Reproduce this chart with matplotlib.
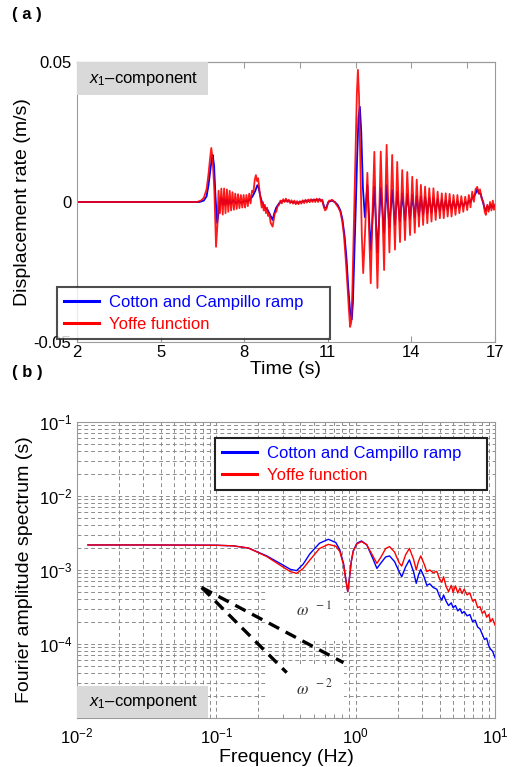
import matplotlib
matplotlib.use("Agg")
import matplotlib.pyplot as plt
from matplotlib.patches import Rectangle
from matplotlib.ticker import LogLocator, NullFormatter, FixedLocator

plt.rcParams['font.family'] = ['Liberation Sans', 'DejaVu Sans']
plt.rcParams['mathtext.fontset'] = 'custom'
plt.rcParams['mathtext.rm'] = 'Liberation Sans'
plt.rcParams['mathtext.it'] = 'Liberation Sans:italic'
plt.rcParams['mathtext.bf'] = 'Liberation Sans:bold'

# ---------------- data: panel (a) time series ----------------
legend_labels = ["Cotton and Campillo ramp", "Yoffe function"]
time_ticks = [2, 5, 8, 11, 14, 17]
time_minor_top = [4, 6, 8, 10, 12, 14, 16]
rate_ticks = [-0.05, 0, 0.05]

yoffe_t = [2.0, 6.3, 6.45, 6.55, 6.65, 6.72, 6.78, 6.82, 6.87, 6.93, 6.99, 7.04, 7.08,
           7.13, 7.18, 7.23, 7.28, 7.33, 7.38, 7.43, 7.48, 7.53, 7.58, 7.63, 7.68, 7.73, 7.78,
           7.83, 7.88, 7.93, 7.98, 8.03, 8.08, 8.13, 8.18, 8.23, 8.28, 8.33, 8.38, 8.42, 8.46,
           8.5, 8.55, 8.6, 8.63, 8.67, 8.7, 8.74, 8.78, 8.82, 8.86, 8.9, 8.95, 9.02, 9.06, 9.1,
           9.15, 9.2, 9.25, 9.3, 9.35, 9.4, 9.45, 9.5, 9.55, 9.6, 9.65, 9.7, 9.75, 9.8, 9.85,
           9.9, 9.95, 10.0, 10.05, 10.1, 10.15, 10.2, 10.25, 10.3, 10.35, 10.4, 10.45, 10.5,
           10.55, 10.6, 10.65, 10.7, 10.75, 10.8, 10.85, 10.9, 10.95, 11.0, 11.05, 11.1, 11.15,
           11.2, 11.25, 11.3, 11.38, 11.45, 11.52, 11.58, 11.64, 11.7, 11.76, 11.8, 11.84,
           11.88, 11.92, 11.96, 12.0, 12.04, 12.08, 12.12, 12.17, 12.22, 12.27, 12.34, 12.42,
           12.48, 12.54, 12.6, 12.67, 12.72, 12.78, 12.84, 12.9, 12.96, 13.02, 13.06, 13.11,
           13.16, 13.21, 13.26, 13.31, 13.36, 13.41, 13.45, 13.49, 13.54, 13.59, 13.63, 13.67,
           13.72, 13.77, 13.85, 13.95, 14.03, 14.12, 14.19, 14.27, 14.34, 14.42, 14.49, 14.57,
           14.64, 14.72, 14.79, 14.87, 14.94, 15.02, 15.09, 15.16, 15.23, 15.3, 15.37, 15.44,
           15.51, 15.58, 15.65, 15.72, 15.79, 15.86, 15.93, 16.0, 16.06, 16.12, 16.18, 16.24,
           16.3, 16.36, 16.42, 16.46, 16.52, 16.58, 16.63, 16.67, 16.72, 16.77, 16.82, 16.87,
           16.92, 16.96, 17.0]
yoffe_v = [0, 0, 0.0005, 0.0015, 0.0045, 0.010, 0.016, 0.0193, 0.015, 0.004, -0.016, -0.008, 0.004,
           -0.004, 0.0048, -0.0045, 0.0048, -0.004, 0.0045, -0.0035, 0.004, -0.003, 0.0035, -0.0028,
           0.003, -0.0025, 0.0028, -0.0022, 0.0025, -0.002, 0.0025, -0.002, 0.0025, -0.0015, 0.003,
           -0.0005, 0.004, 0.0035, 0.008, 0.0096, 0.0075, 0.0085, 0.004, 0.0, -0.002, 0.0, -0.003,
           -0.001, -0.004, -0.002, -0.005, -0.004, -0.0075, -0.0088, -0.0065, -0.004, -0.0035,
           -0.0015, -0.001, 0.0005, -0.0005, 0.001, 0.0, 0.0012, 0.0, 0.0008, -0.0004, 0.0006,
           -0.0006, 0.0005, -0.0008, 0.0003, -0.0008, 0.0003, -0.0006, 0.0006, -0.0004, 0.0008,
           -0.0002, 0.0009, -0.0001, 0.0010, 0.0, 0.0010, 0.0, 0.0012, 0.0, 0.0012, 0.0002, 0.0008,
           -0.0015, -0.003, -0.0025, -0.0005, 0.0005, 0.0005, 0.0008, 0.0003, 0.0, -0.0008, -0.002,
           -0.0035, -0.007, -0.012, -0.02, -0.029, -0.039, -0.0446, -0.043, -0.032, -0.015, 0.002,
           0.02, 0.038, 0.0472, 0.038, 0.012, -0.012, -0.0254, -0.01, 0.0104, -0.01, -0.029, -0.005,
           0.0179, -0.006, -0.0307, -0.006, 0.018, -0.003, -0.0243, -0.002, 0.0204, 0.001, -0.018,
           -0.001, 0.0168, -0.001, -0.017, -0.001, 0.0143, -0.001, -0.0143, -0.001, 0.0114, -0.001,
           -0.0136, 0.0107, -0.0118, 0.009, -0.011, 0.008, -0.0088, 0.0061, -0.0082, 0.0055, -0.0076,
           0.0049, -0.007, 0.0049, -0.0064, 0.0037, -0.0058, 0.0031, -0.0058, 0.0031, -0.0052,
           0.0029, -0.0052, 0.0025, -0.0046, 0.0025, -0.004, 0.0021, -0.0035, 0.0019, -0.0029,
           0.0025, -0.0019, 0.0037, 0.0001, 0.0045, 0.0054, 0.003, 0.0045, 0.0012, 0.0, -0.0035,
           -0.0046, -0.001, -0.0035, 0.0, -0.003, 0.0005, -0.0028, -0.001]

cotton_t = [2.0, 6.4, 6.55, 6.65, 6.72, 6.78, 6.83, 6.87, 6.92, 6.97, 7.03, 7.08, 7.13,
            7.18, 7.23, 7.28, 7.33, 7.38, 7.43, 7.48, 7.53, 7.6, 7.7, 7.8, 7.9, 8.0, 8.1, 8.2,
            8.3, 8.4, 8.47, 8.52, 8.58, 8.65, 8.75, 8.85, 8.95, 9.02, 9.08, 9.15, 9.25, 9.35,
            9.5, 9.7, 9.9, 10.1, 10.3, 10.5, 10.7, 10.8, 10.88, 10.95, 11.02, 11.15, 11.25,
            11.35, 11.45, 11.52, 11.6, 11.67, 11.73, 11.8, 11.86, 11.9, 11.95, 12.0, 12.05,
            12.1, 12.15, 12.2, 12.26, 12.33, 12.42, 12.54, 12.67, 12.78, 12.9, 13.02, 13.11,
            13.21, 13.31, 13.41, 13.49, 13.59, 13.67, 13.77, 13.85, 13.95, 14.03, 14.12, 14.19,
            14.27, 14.34, 14.42, 14.49, 14.57, 14.64, 14.72, 14.79, 14.87, 14.94, 15.02, 15.09,
            15.16, 15.23, 15.3, 15.37, 15.44, 15.51, 15.58, 15.65, 15.72, 15.79, 15.86, 15.93,
            16.0, 16.06, 16.12, 16.18, 16.24, 16.3, 16.36, 16.42, 16.48, 16.55, 16.62, 16.67,
            16.72, 16.78, 16.85, 16.92, 17.0]
cotton_v = [0, 0, 0.0005, 0.002, 0.006, 0.011, 0.015, 0.0168, 0.013, 0.002, -0.0075, -0.004, 0.0,
            0.0015, -0.001, 0.0012, -0.001, 0.001, -0.0008, 0.0008, -0.0006, 0.0006, -0.0004,
            0.0004, -0.0003, 0.0003, 0.0002, 0.0008, 0.002, 0.004, 0.006, 0.005, 0.002, -0.0005,
            -0.002, -0.003, -0.005, -0.0064, -0.004, -0.002, -0.0005, 0.0003, 0.0005, 0.0, -0.0003,
            0.0002, 0.0005, 0.0007, 0.0008, 0.0005, -0.002, -0.002, 0.0, 0.0005, 0.0, -0.001,
            -0.003, -0.006, -0.012, -0.02, -0.03, -0.039, -0.042, -0.036, -0.02, -0.003, 0.015,
            0.03, 0.034, 0.025, 0.005, -0.0054, 0.006, -0.017, 0.0054, -0.018, 0.005, -0.011,
            0.006, -0.009, 0.0043, -0.008, 0.0036, -0.007, 0.003, -0.0065, 0.0028, -0.006, 0.0025,
            -0.0055, 0.0022, -0.005, 0.002, -0.0045, 0.0018, -0.004, 0.0015, -0.0038, 0.0012,
            -0.0035, 0.001, -0.0032, 0.0008, -0.003, 0.0005, -0.0028, 0.0005, -0.0025, 0.0003,
            -0.0022, 0.0002, -0.002, 0.0, -0.0015, 0.0, -0.001, 0.0005, 0.0, 0.0015, 0.002, 0.003,
            0.0045, 0.003, 0.003, 0.0005, -0.002, -0.003, -0.0015, -0.0025, -0.001, -0.002, -0.001]

# ---------------- data: panel (b) Fourier spectra ----------------
cotton_f = [0.012, 0.03, 0.06, 0.1, 0.132, 0.17, 0.23, 0.3, 0.34, 0.377, 0.42, 0.47, 0.55,
            0.637, 0.72, 0.77, 0.82, 0.85, 0.877, 0.9, 0.93, 0.96, 1.02, 1.1, 1.2, 1.34, 1.42,
            1.52, 1.64, 1.75, 1.9, 2.05, 2.14, 2.28, 2.43, 2.6, 2.72, 2.82, 2.93, 3.1, 3.24, 3.4,
            3.6, 3.82, 4.0, 4.15, 4.27, 4.45, 4.64, 4.85, 5.0, 5.2, 5.4, 5.6, 5.8, 6.0, 6.3, 6.6,
            6.9, 7.2, 7.5, 7.8, 8.1, 8.4, 8.7, 9.0, 9.3, 9.6, 10.0]
cotton_amp = [2.18e-3, 2.18e-3, 2.17e-3, 2.16e-3, 2.12e-3, 1.98e-3, 1.55e-3, 1.17e-3, 1.02e-3,
              9.8e-4, 1.2e-3, 1.66e-3, 2.3e-3, 2.6e-3, 2.35e-3, 1.87e-3, 1.2e-3, 7.5e-4, 5.1e-4,
              7.5e-4, 1.3e-3, 1.8e-3, 2.3e-3, 2.47e-3, 2.2e-3, 1.37e-3, 1.05e-3, 1.25e-3, 1.5e-3,
              1.55e-3, 1.3e-3, 9.5e-4, 8.1e-4, 1.1e-3, 1.37e-3, 9.5e-4, 6.6e-4, 8.5e-4, 1.02e-3,
              8e-4, 6.2e-4, 6.5e-4, 5.8e-4, 5.5e-4, 4.4e-4, 3.9e-4, 4.6e-4, 3.8e-4, 3.3e-4, 3.6e-4,
              3.1e-4, 3.3e-4, 2.8e-4, 3.0e-4, 2.6e-4, 2.75e-4, 2.4e-4, 2.5e-4, 2.0e-4, 2.1e-4,
              1.7e-4, 1.6e-4, 1.35e-4, 1.15e-4, 1.2e-4, 9.5e-5, 8.5e-5, 8e-5, 6.5e-5]
yoffe_f = cotton_f
yoffe_amp = [2.18e-3, 2.18e-3, 2.17e-3, 2.16e-3, 2.12e-3, 1.98e-3, 1.52e-3, 1.1e-3, 9.5e-4,
             9.0e-4, 1.05e-3, 1.37e-3, 1.95e-3, 2.22e-3, 2.1e-3, 1.77e-3, 1.15e-3, 7.2e-4, 5.1e-4,
             7.5e-4, 1.3e-3, 1.8e-3, 2.25e-3, 2.42e-3, 2.2e-3, 1.5e-3, 1.23e-3, 1.5e-3, 1.95e-3,
             2.07e-3, 1.75e-3, 1.25e-3, 1.13e-3, 1.6e-3, 1.96e-3, 1.4e-3, 1.0e-3, 1.3e-3, 1.55e-3,
             1.2e-3, 9.5e-4, 1.0e-3, 9.2e-4, 9.6e-4, 7.5e-4, 6.8e-4, 8.1e-4, 6.0e-4, 5.1e-4, 6.2e-4,
             5.0e-4, 6.1e-4, 4.9e-4, 5.7e-4, 4.8e-4, 5.5e-4, 4.6e-4, 4.9e-4, 3.8e-4, 4.0e-4,
             3.1e-4, 3.2e-4, 2.6e-4, 2.8e-4, 2.3e-4, 2.5e-4, 2.0e-4, 2.2e-4, 1.8e-4]

guide1_f = [0.0785, 0.817]
guide1_amp = [5.8e-4, 5.6e-5]
guide2_f = [0.0785, 0.32]
guide2_amp = [5.8e-4, 4.1e-5]

BLUE = '#0000ff'
RED = '#ff0000'
FRAME = '#9a9a9a'

fig = plt.figure(figsize=(5.13, 7.67), dpi=100)

# ---------------- panel (a) ----------------
ax1 = fig.add_axes([0.150, 0.5541, 0.815, 0.3651])
l1, = ax1.plot(cotton_t, cotton_v, color=BLUE, lw=1.3, label=legend_labels[0])
l2, = ax1.plot(yoffe_t, yoffe_v, color=RED, lw=1.3, alpha=0.9, label=legend_labels[1])
ax1.set_xlim(2, 17)
ax1.set_ylim(-0.05, 0.05)
ax1.set_xticks(time_ticks)
ax1.set_xticklabels([str(t) for t in time_ticks])
ax1.set_yticks(rate_ticks)
ax1.set_yticklabels(['-0.05', '0', '0.05'])
ax1.tick_params(axis='both', direction='in', labelsize=12, length=4, color=FRAME, pad=2)
ax1.tick_params(axis='y', length=0, pad=4)
sec = ax1.secondary_xaxis('top')
sec.set_xticks(time_minor_top)
sec.set_xticklabels([])
sec.tick_params(direction='in', length=4, color=FRAME)
sec.spines['top'].set_color(FRAME)
for s in ax1.spines.values():
    s.set_color(FRAME)
ax1.set_xlabel('Time (s)', fontsize=14, labelpad=1)
ax1.set_ylabel('Displacement rate (m/s)', fontsize=14, labelpad=2)
ax1.add_patch(Rectangle((0, 0.882), 0.313, 0.118, transform=ax1.transAxes,
                        facecolor='#d9d9d9', edgecolor='none', zorder=3))
ax1.text(0.03, 0.94, r'$x_1$–component', transform=ax1.transAxes, fontsize=12,
         va='center', ha='left', zorder=4)
leg1 = ax1.legend(handles=[l1, l2], loc='lower left',
                  bbox_to_anchor=(0.111, 0.558, 0.532, 0.0795),
                  bbox_transform=fig.transFigure, mode='expand', borderaxespad=0,
                  fontsize=12, frameon=True, fancybox=False, handlelength=2.1,
                  handletextpad=0.6, labelspacing=0.4, borderpad=0.45)
leg1.get_frame().set_edgecolor('#222222')
leg1.get_frame().set_linewidth(1.5)
for txt, c in zip(leg1.get_texts(), [BLUE, RED]):
    txt.set_color(c)
for h in leg1.legend_handles:
    h.set_linewidth(2.2)
    h.set_alpha(1)

# ---------------- panel (b) ----------------
ax2 = fig.add_axes([0.150, 0.0639, 0.815, 0.3859])
ax2.loglog(cotton_f, cotton_amp, color=BLUE, lw=1.0, label=legend_labels[0])
ax2.loglog(yoffe_f, yoffe_amp, color=RED, lw=1.0, label=legend_labels[1])
ax2.plot(guide1_f, guide1_amp, color='black', lw=2.4, linestyle=(0, (3.5, 2.2)),
         solid_capstyle='butt', dash_capstyle='butt', zorder=5)
ax2.plot(guide2_f, guide2_amp, color='black', lw=2.4, linestyle=(0, (3.5, 2.2)),
         solid_capstyle='butt', dash_capstyle='butt', zorder=5)
ax2.set_xlim(1e-2, 1e1)
ax2.set_ylim(1e-5, 1e-1)
ax2.xaxis.set_major_locator(FixedLocator([1e-2, 1e-1, 1e0, 1e1]))
ax2.yaxis.set_major_locator(FixedLocator([1e-5, 1e-4, 1e-3, 1e-2, 1e-1]))
ax2.xaxis.set_minor_locator(LogLocator(base=10, subs=range(2, 10), numticks=20))
ax2.yaxis.set_minor_locator(LogLocator(base=10, subs=range(2, 10), numticks=20))
ax2.xaxis.set_minor_formatter(NullFormatter())
ax2.yaxis.set_minor_formatter(NullFormatter())
ax2.set_xticklabels([r'$10^{-2}$', r'$10^{-1}$', r'$10^{0}$', r'$10^{1}$'])
ax2.set_yticklabels(['', r'$10^{-4}$', r'$10^{-3}$', r'$10^{-2}$', r'$10^{-1}$'])
ax2.tick_params(which='both', direction='in', labelsize=12, color=FRAME, length=0)
ax2.tick_params(axis='x', pad=6)
ax2.grid(True, which='major', linestyle=(0, (4, 3)), color='#8c8c8c', lw=0.7)
ax2.grid(True, which='minor', linestyle=(0, (4, 3)), color='#8c8c8c', lw=0.7)
ax2.set_axisbelow(True)
for s in ax2.spines.values():
    s.set_color(FRAME)
ax2.set_xlabel('Frequency (Hz)', fontsize=14, labelpad=2)
ax2.set_ylabel('Fourier amplitude spectrum (s)', fontsize=14, labelpad=4)
ax2.add_patch(Rectangle((0, 0), 0.313, 0.108, transform=ax2.transAxes,
                        facecolor='#d9d9d9', edgecolor='none', zorder=3))
ax2.text(0.03, 0.054, r'$x_1$–component', transform=ax2.transAxes, fontsize=12,
         va='center', ha='left', zorder=4)
ax2.add_patch(Rectangle((0.458, 0.26), 0.18, 0.18, transform=ax2.transAxes,
                        facecolor='white', edgecolor='none', zorder=2))
ax2.add_patch(Rectangle((0.458, 0.02), 0.18, 0.16, transform=ax2.transAxes,
                        facecolor='white', edgecolor='none', zorder=2))
ax2.text(0.525, 0.365, r'$\omega^{\ \ -1}$', transform=ax2.transAxes, fontsize=12,
         math_fontfamily='stix', color='#333333', ha='left', va='center', zorder=6)
ax2.text(0.525, 0.105, r'$\omega^{\ \ -2}$', transform=ax2.transAxes, fontsize=12,
         math_fontfamily='stix', color='#333333', ha='left', va='center', zorder=6)
leg2 = ax2.legend(loc='lower left', bbox_to_anchor=(0.419, 0.361, 0.530, 0.0795),
                  bbox_transform=fig.transFigure, mode='expand', borderaxespad=0,
                  fontsize=12, frameon=True, fancybox=False, handlelength=2.1,
                  handletextpad=0.6, labelspacing=0.4, borderpad=0.45, framealpha=1)
leg2.get_frame().set_edgecolor('#222222')
leg2.get_frame().set_linewidth(1.5)
for txt, c in zip(leg2.get_texts(), [BLUE, RED]):
    txt.set_color(c)
for h in leg2.legend_handles:
    h.set_linewidth(2.2)

fig.text(12 / 513, 1 - 15 / 767, '( a )', fontsize=12, fontweight='bold', va='center', ha='left')
fig.text(12 / 513, 1 - 373 / 767, '( b )', fontsize=12, fontweight='bold', va='center', ha='left')

fig.savefig('out.png', dpi=100)
